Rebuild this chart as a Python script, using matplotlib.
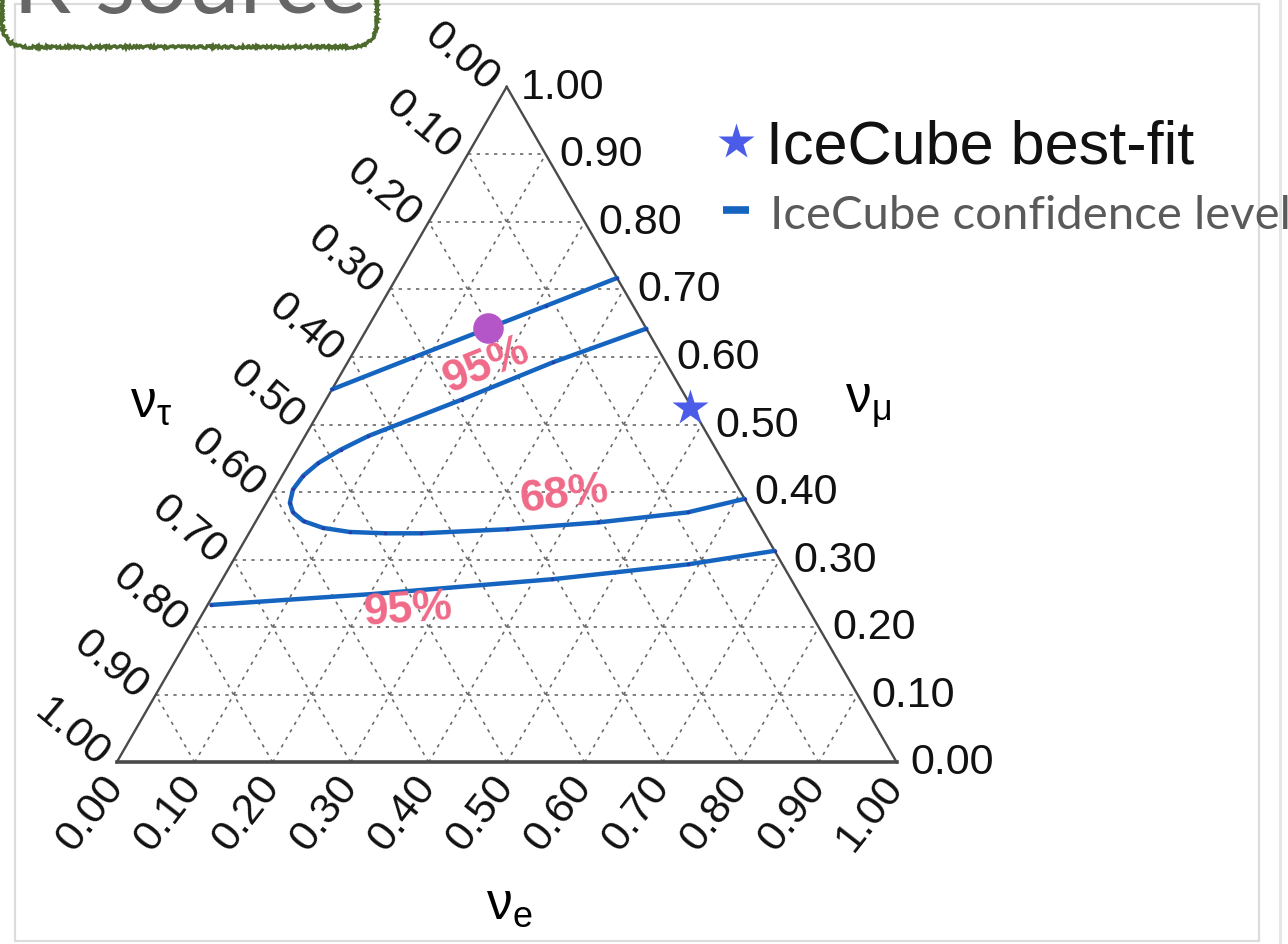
import numpy as np
import matplotlib
matplotlib.use('Agg')
import matplotlib.pyplot as plt
from matplotlib.patches import FancyBboxPatch, Rectangle
from matplotlib.lines import Line2D
from matplotlib.transforms import IdentityTransform

plt.rcParams['font.family'] = ['Liberation Sans', 'DejaVu Sans']
plt.rcParams['mathtext.fontset'] = 'custom'
plt.rcParams['mathtext.rm'] = 'Liberation Sans'
plt.rcParams['mathtext.it'] = 'Liberation Sans'

# flavour fractions (nu_e, nu_mu); nu_tau = 1 - nu_e - nu_mu
tick_values = [0.0, 0.1, 0.2, 0.3, 0.4, 0.5, 0.6, 0.7, 0.8, 0.9, 1.0]

cl68_e = [0.358, 0.263, 0.174, 0.081, 0.056, 0.037, 0.027, 0.024, 0.030, 0.041,
          0.061, 0.091, 0.128, 0.175, 0.221, 0.328, 0.439, 0.547, 0.610]
cl68_mu = [0.642, 0.592, 0.537, 0.483, 0.463, 0.443, 0.424, 0.404, 0.384, 0.370,
           0.357, 0.347, 0.341, 0.339, 0.339, 0.345, 0.355, 0.370, 0.390]

cl95_upper_e = [0.000, 0.080, 0.154, 0.213, 0.283]
cl95_upper_mu = [0.552, 0.599, 0.642, 0.676, 0.717]
cl95_lower_e = [0.005, 0.202, 0.423, 0.586, 0.687]
cl95_lower_mu = [0.233, 0.249, 0.271, 0.293, 0.313]

best_fit_e, best_fit_mu = 0.472, 0.525
source_e, source_mu = 0.155, 0.643

H = np.sqrt(3) / 2


def tern(e, mu):
    e = np.asarray(e, dtype=float)
    mu = np.asarray(mu, dtype=float)
    return e + 0.5 * mu, H * mu


W, HT = 1288, 945
fig = plt.figure(figsize=(W / 100, HT / 100), dpi=100)
ax = fig.add_axes([0, 0, 1, 1])
x0, y0, s = 116.7, 763.3, 780.0
ax.set_xlim(-x0 / s, (W - x0) / s)
ax.set_ylim((y0 - HT) / s, y0 / s)
ax.axis('off')

# dotted grid in the three directions
grid_kw = dict(color='#6a6a6a', lw=1.2, ls=(0, (2.0, 3.2)), zorder=1)
for v in tick_values[1:-1]:
    ax.plot(*tern([0, 1 - v], [v, v]), **grid_kw)          # constant nu_mu
    ax.plot(*tern([v, v], [0, 1 - v]), **grid_kw)          # constant nu_e
    ax.plot(*tern([1 - v, 0], [0, 1 - v]), **grid_kw)      # constant nu_tau

# triangle
ax.plot(*tern([0, 0], [0, 1]), color='#4a4a4a', lw=1.7, zorder=2)
ax.plot(*tern([0, 1], [1, 0]), color='#4a4a4a', lw=1.7, zorder=2)
ax.plot(*tern([0, 1], [0, 0]), color='#4a4a4a', lw=2.6, zorder=2)

# tick labels
lab_kw = dict(textcoords='offset points', fontsize=31, color='#111111',
              rotation_mode='anchor', annotation_clip=False)
for v in tick_values:
    t = f'{v:.2f}'
    ax.annotate(t, tern(1 - v, v), xytext=(10, 0), ha='left', va='center', **lab_kw)
    ax.annotate(t, tern(0, 1 - v), xytext=(-9.4, 2.2), ha='right', va='center',
                rotation=-40, **lab_kw)
    ax.annotate(t, tern(v, 0), xytext=(-0.7, -12.2), ha='right', va='center',
                rotation=52, **lab_kw)

# axis titles
ax.text(0.044, 0.462, r'$\mathregular{ν_τ}$', fontsize=37, ha='center', va='center')
ax.text(0.963, 0.459, r'$\mathregular{ν_μ}$', fontsize=37, ha='center', va='center')
ax.text(0.503, -0.182, r'$\mathregular{ν_e}$', fontsize=37, ha='center', va='center')

# confidence contours
line_kw = dict(color='#1565c0', lw=3.2, marker='.', ms=3, mfc='#2b3aa8', mec='#2b3aa8',
               solid_capstyle='round', zorder=4)
ax.plot(*tern(cl68_e, cl68_mu), **line_kw)
ax.plot(*tern(cl95_upper_e, cl95_upper_mu), **line_kw)
ax.plot(*tern(cl95_lower_e, cl95_lower_mu), **line_kw)

pct_kw = dict(fontsize=32, fontweight='bold', color='#ef6a88', ha='center', va='center',
              zorder=5)
ax.text(0.4735, 0.5094, '95%', rotation=22, **pct_kw)
ax.text(0.5735, 0.3440, '68%', rotation=7, **pct_kw)
ax.text(0.3735, 0.1965, '95%', rotation=4, **pct_kw)

# markers
ax.plot(*tern([best_fit_e], [best_fit_mu]), marker='*', ms=27, color='#4a5ce8',
        mec='none', ls='none', zorder=6)
ax.plot(*tern([source_e], [source_mu]), marker='o', ms=22, color='#b455c8',
        mec='none', ls='none', zorder=6)

# legend
fx = lambda px: px / W
fy = lambda py: 1 - py / HT
ax.plot([fx(735.5)], [fy(143)], marker='*', ms=27, color='#4a5ce8', mec='none',
        transform=fig.transFigure, clip_on=False)
fig.text(fx(766), fy(164), 'IceCube best-fit', fontsize=44, color='#111111', va='baseline')
fig.add_artist(Line2D([fx(723), fx(749)], [fy(211), fy(211)], lw=5.5, color='#1565c0',
                      solid_capstyle='butt', transform=fig.transFigure))
fig.text(fx(770), fy(229), 'IceCube confidence level', fontsize=34, family='Lato',
         color='#5a5a5a', va='baseline')

# page frame and heading
fig.add_artist(Rectangle((15, HT - 942), 1244, 937, fill=False, ec='#dcdcdc', lw=1.6,
                         transform=IdentityTransform()))
fig.add_artist(Line2D([1280, 1280], [0, HT], lw=2.2, color='#e6e6e6',
                      transform=IdentityTransform()))
fig.text(fx(13), fy(13), 'R source', fontsize=67, family='Lato', color='#666666',
         va='baseline')
box = FancyBboxPatch((2, HT - 48), 375, 90, boxstyle='round,pad=0,rounding_size=26',
                     fill=False, ec='#4d6b2d', lw=2.4, transform=IdentityTransform())
box.set_sketch_params(scale=1.2, length=3, randomness=6)
fig.add_artist(box)

fig.savefig('out.png', dpi=100)
